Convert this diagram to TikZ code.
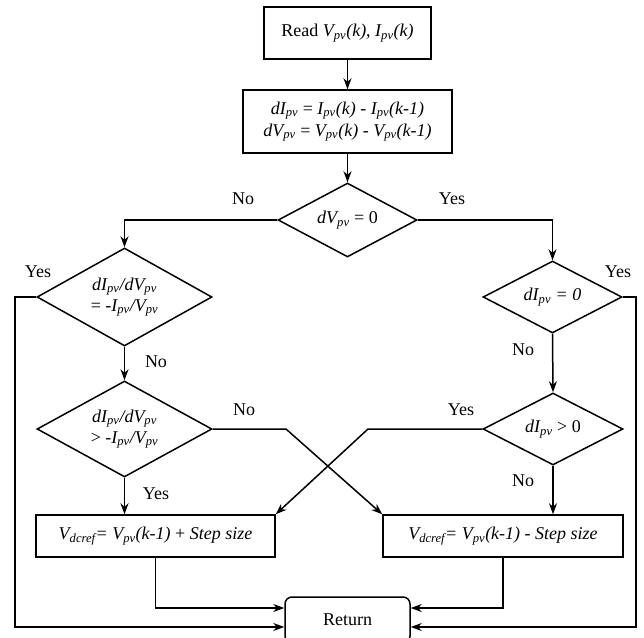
\documentclass[tikz,border=0pt]{standalone}
\usepackage{fontspec}
\setmainfont{Liberation Serif}
\usetikzlibrary{shapes.geometric,arrows.meta}
\newcommand{\mypv}{\textsubscript{\textit{pv}}}
\newcommand{\mydc}{\textsubscript{\textit{dcref}}}
\begin{document}
\begin{tikzpicture}[x=1pt,y=-1pt,
  font=\fontsize{18}{21}\selectfont,
  line width=1.5pt,
  box/.style={draw,rectangle,inner sep=0pt,align=center},
  dia/.style={draw,diamond,inner sep=0pt,align=center},
  arr/.style={-{Stealth[length=11pt,width=8pt]}},
  lbl/.style={inner sep=0pt}]
\useasboundingbox (0,0) rectangle (644,637);
\node[box,minimum width=167pt,minimum height=52pt] (read) at (347.5,33) {Read \textit{V\mypv(k)}, \textit{I\mypv(k)}};
\node[box,minimum width=209pt,minimum height=63pt,font=\fontsize{18}{22}\selectfont\itshape] (calc) at (347.5,121.5) {dI\mypv\ \textup{=} I\mypv(k) - I\mypv(k-1)\\ dV\mypv\ \textup{=} V\mypv(k) - V\mypv(k-1)};
\node[dia,minimum width=139pt,minimum height=74pt,aspect=1.88] (d1) at (347.5,220) {\textit{dV\mypv} = 0};
\node[dia,minimum width=175pt,minimum height=98pt,aspect=1.79] (d2) at (124.5,297) {\textit{dI\mypv/dV\mypv}\\ = -\textit{I\mypv/V\mypv}};
\node[dia,minimum width=175pt,minimum height=96pt,aspect=1.82] (d3) at (124.5,429) {\textit{dI\mypv/dV\mypv}\\ \textgreater{} -\textit{I\mypv/V\mypv}};
\node[dia,minimum width=139pt,minimum height=72pt,aspect=1.93] (d4) at (552.5,297) {\textit{dI\mypv\ = 0}};
\node[dia,minimum width=140pt,minimum height=72pt,aspect=1.94] (d5) at (553,429) {\textit{dI\mypv} \textgreater{} 0};
\node[box,minimum width=239pt,minimum height=42pt] (boxL) at (155.5,536) {\textit{V\mydc = V\mypv(k-1)} + \textit{Step size}};
\node[box,minimum width=240pt,minimum height=42pt] (boxR) at (503,536) {\textit{V\mydc = V\mypv(k-1) - Step size}};
\node[box,rounded corners=7pt,minimum width=125pt,minimum height=46pt] (ret) at (347.5,620) {Return};
% labels
\node[lbl] (l1) at (243,199) {No};
\node[lbl] (l2) at (452,199) {Yes};
\node[lbl] (l3) at (38,272) {Yes};
\node[lbl] (l4) at (618,272) {Yes};
\node[lbl] (l5) at (156,362) {No};
\node[lbl] (l6) at (244,410) {No};
\node[lbl] (l7) at (156,494) {Yes};
\node[lbl] (l8) at (461,410) {Yes};
\node[lbl] (l9) at (523,350) {No};
\node[lbl] (l10) at (523,481) {No};
% connectors
\draw[arr] (read) -- (calc);
\draw[arr] (calc) -- (d1);
\draw[arr] (d1.west) -| (d2.north);
\draw[arr] (d1.east) -| (d4.north);
\draw[arr] (d2.south) -- (d3.north);
\draw[arr] (d4.south) -- (d5.north);
\draw[arr] (d3.south) -- (d3.south |- boxL.north);
\draw[arr] (d5.south) -- (d5.south |- boxR.north);
\coordinate (bl) at (286,429);
\coordinate (br) at (368,429);
\draw[arr] (d3.east) -- (bl) -- (boxR.north west);
\draw[arr] (d5.west) -- (br) -- (boxL.north east);
\coordinate (cl) at (15,297);
\coordinate (cr) at (636,297);
\draw[arr] (d2.west) -- (cl) |- ([yshift=-7pt]ret.west);
\draw[arr] (d4.east) -- (cr) |- ([yshift=-7pt]ret.east);
\draw[arr] (boxL.south) |- ([yshift=12pt]ret.west);
\draw[arr] (boxR.south) |- ([yshift=12pt]ret.east);
\end{tikzpicture}
\end{document}
